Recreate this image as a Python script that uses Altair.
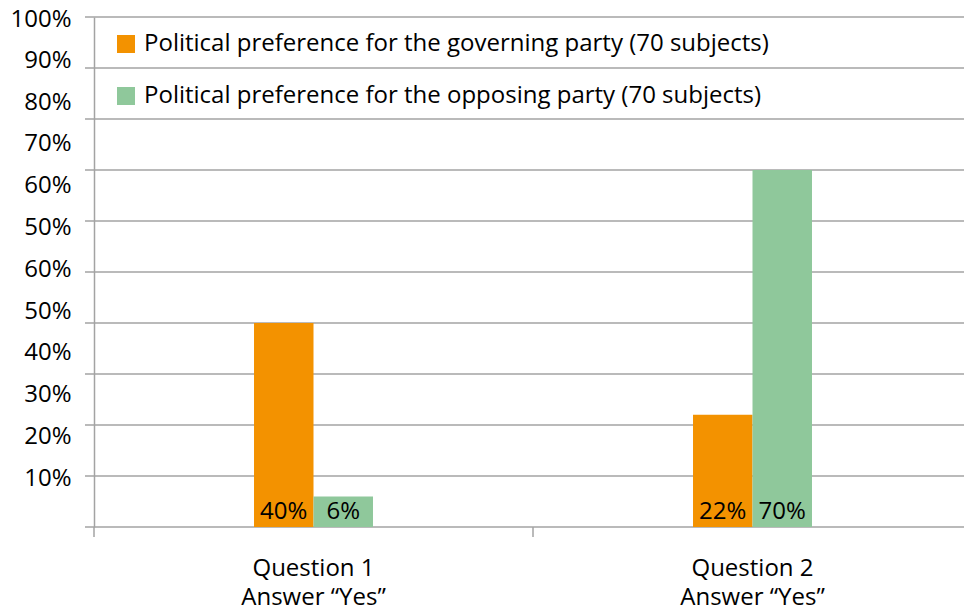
import altair as alt
import pandas as pd

# Categories and series
questions = ["Question 1\nAnswer “Yes”", "Question 2\nAnswer “Yes”"]
parties = [
    "Political preference for the governing party (70 subjects)",
    "Political preference for the opposing party (70 subjects)",
]
governing = [40, 22]
opposing = [6, 70]
bar_labels_gov = ["40%", "22%"]
bar_labels_opp = ["6%", "70%"]
party_colors = ["#F39200", "#8FC89B"]

# Y axis: tick labels as printed, and where they sit on the value scale
ytick_text = ["100%", "90%", "80%", "70%", "60%", "50%",
              "60%", "50%", "40%", "30%", "20%", "10%"]
ytick_pos = [99.6, 91.4, 83.2, 75.1, 66.9, 58.7,
             50.5, 42.3, 34.2, 26.0, 17.8, 9.6]
grid_values = [0, 10, 20, 30, 40, 50, 60, 70, 80, 90, 100]

rows = []
for i, q in enumerate(questions):
    rows.append({"q": q, "party": parties[0], "value": governing[i], "label": bar_labels_gov[i]})
    rows.append({"q": q, "party": parties[1], "value": opposing[i], "label": bar_labels_opp[i]})
df = pd.DataFrame(rows)
grid_df = pd.DataFrame({"g": grid_values})
# boundaries between category steps (0 = left edge, 1 = between Q1 and Q2, 2 = right edge)
edge_df = pd.DataFrame({"edge": list(range(len(questions) + 1))})

FONT = "Open Sans"
FS = 24
W, H = 870, 510
XR = 878
GRID = "#A3A3A3"
PAD_INNER = 0.729

pos_js = "[" + ",".join(str(v) for v in ytick_pos) + "]"
txt_js = "[" + ",".join(f"'{t}'" for t in ytick_text) + "]"

yscale = alt.Scale(domain=[0, 100], nice=False)
xscale = alt.Scale(domain=questions, range=[0, XR],
                   paddingInner=PAD_INNER, paddingOuter=PAD_INNER / 2)

y_axis = alt.Axis(values=ytick_pos, labelExpr=f"{txt_js}[indexof({pos_js}, datum.value)]",
                  labelFont=FONT, labelFontSize=FS, labelColor="#000",
                  labelPadding=23, ticks=False, grid=False,
                  domainColor=GRID, domainWidth=1.5)
x_axis = alt.Axis(labelExpr="split(datum.label, '\\n')", labelAngle=0,
                  labelFont=FONT, labelFontSize=FS, labelColor="#000",
                  labelLineHeight=29, labelPadding=29, labelBaseline="top",
                  ticks=False, domain=False, grid=False)

# horizontal gridlines, with short stubs left of the value axis
grid = alt.Chart(grid_df).mark_rule(color=GRID, strokeWidth=1.5).encode(
    y=alt.Y("g:Q", scale=yscale, axis=y_axis, title=None),
    x=alt.value(-9),
    x2=alt.value(XR),
)

# category separators hanging below the baseline
cat_ticks = alt.Chart(edge_df).mark_rule(color=GRID, strokeWidth=1.5).encode(
    x=alt.X("edge:Q", scale=alt.Scale(domain=[0, len(questions)], range=[0, XR], nice=False),
            axis=None),
    y=alt.value(H),
    y2=alt.value(H + 10),
)

bars = alt.Chart(df).mark_bar().encode(
    x=alt.X("q:N", scale=xscale, sort=questions, title=None, axis=x_axis),
    xOffset=alt.XOffset("party:N", sort=parties, scale=alt.Scale(paddingInner=0, paddingOuter=0)),
    y=alt.Y("value:Q", scale=yscale, title=None, axis=y_axis),
    color=alt.Color("party:N", sort=parties,
                    scale=alt.Scale(domain=parties, range=party_colors),
                    legend=alt.Legend(title=None, orient="none", legendX=20, legendY=15,
                                      symbolType="square", symbolSize=324,
                                      symbolStrokeWidth=0, labelFont=FONT,
                                      labelFontSize=FS, labelColor="#000",
                                      labelOffset=6, rowPadding=28,
                                      labelLimit=800)),
)

texts = alt.Chart(df).mark_text(font=FONT, fontSize=FS, color="#000",
                                baseline="alphabetic", dy=-8).encode(
    x=alt.X("q:N", scale=xscale, sort=questions, title=None, axis=x_axis),
    xOffset=alt.XOffset("party:N", sort=parties),
    y=alt.datum(0),
    text="label:N",
)

main = alt.layer(grid, bars, texts)

chart = alt.layer(main, cat_ticks).resolve_scale(x="independent").properties(
    width=W, height=H,
    autosize=alt.AutoSizeParams(type="none"),
    padding={"left": 94, "top": 17, "right": 0, "bottom": 82},
).configure_view(stroke=None)

chart.save("out.html", embed_options={"renderer": "svg", "actions": False})
